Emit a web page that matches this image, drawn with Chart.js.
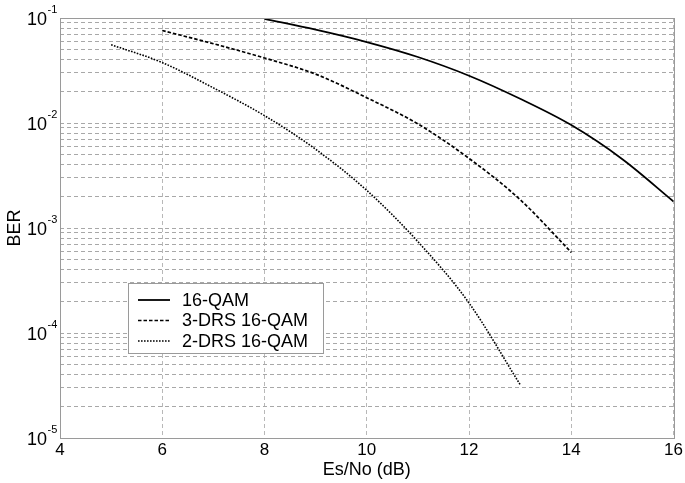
<!DOCTYPE html>
<html>
<head>
<meta charset="utf-8">
<script src="https://cdn.jsdelivr.net/npm/chart.js@4/dist/chart.umd.min.js"></script>
<style>
  body { margin: 0; background: #fff; }
  #wrap { width: 685px; height: 483px; position: relative; }
</style>
</head>
<body>
<div id="wrap"><canvas id="ber"></canvas></div>
<script>
// Es/No (dB) points and BER values
const esNoQam = [8, 9, 10, 11, 12, 13, 14, 15, 16];
const berQam = [0.098, 0.0774, 0.059, 0.0425, 0.0282, 0.017, 0.00955, 0.00452, 0.00179];

const esNoDrs3 = [6, 7, 8, 9, 10, 11, 12, 13, 14];
const berDrs3 = [0.076, 0.0569, 0.0416, 0.0292, 0.0174, 0.0098, 0.0046, 0.00186, 0.000586];

const esNoDrs2 = [5, 6, 7, 8, 9, 10, 11, 12, 13];
const berDrs2 = [0.0557, 0.0376, 0.0216, 0.01175, 0.00562, 0.00228, 0.000741, 0.000193, 0.0000322];

const seriesNames = ["16-QAM", "3-DRS 16-QAM", "2-DRS 16-QAM"];

// tick labels
const xTicks = [4, 6, 8, 10, 12, 14, 16];
const yExponents = [-5, -4, -3, -2, -1];

const FONT = "'Liberation Sans', Arial, Helvetica, sans-serif";

function toPoints(xs, ys) {
    return xs.map((x, i) => ({ x: x, y: ys[i] }));
}

// every 1..9 x 10^k value gets a grid line
const yGridValues = [];
for (let e = -5; e < -1; e++) {
    for (let m = 1; m <= 9; m++) yGridValues.push(m * Math.pow(10, e));
}
yGridValues.push(0.1);

const boxPlugin = {
    id: "box",
    afterDraw(chart) {
        const a = chart.chartArea;
        const ctx = chart.ctx;
        ctx.save();
        ctx.strokeStyle = "#9a9a9a";
        ctx.lineWidth = 1;
        ctx.setLineDash([]);
        ctx.strokeRect(Math.round(a.left) + 0.5, Math.round(a.top) + 0.5,
            Math.round(a.right - a.left), Math.round(a.bottom - a.top));

        // y tick labels as 10 with a raised exponent
        const ys = chart.scales.y;
        ctx.fillStyle = "#000";
        yExponents.forEach(e => {
            const py = ys.getPixelForValue(Math.pow(10, e));
            ctx.font = "18px " + FONT;
            ctx.textAlign = "right";
            ctx.textBaseline = "alphabetic";
            ctx.fillText("10", a.left - 13, py + 6.5);
            ctx.font = "11px " + FONT;
            ctx.textAlign = "left";
            ctx.fillText(String(e), a.left - 12.5, py - 5);
        });

        // legend box
        const lx = a.left + 68, ly = a.top + 265;
        ctx.fillStyle = "#fff";
        ctx.fillRect(lx, ly, 195, 70);
        ctx.strokeStyle = "#9a9a9a";
        ctx.strokeRect(lx + 0.5, ly + 0.5, 195, 70);
        chart.data.datasets.forEach((ds, i) => {
            const cy = ly + 17 + i * 20.5;
            ctx.strokeStyle = "#000";
            ctx.lineWidth = ds.borderWidth;
            ctx.setLineDash(ds.borderDash || []);
            ctx.beginPath();
            ctx.moveTo(lx + 10, cy);
            ctx.lineTo(lx + 42, cy);
            ctx.stroke();
            ctx.setLineDash([]);
            ctx.fillStyle = "#000";
            ctx.font = "18px " + FONT;
            ctx.textAlign = "left";
            ctx.textBaseline = "middle";
            ctx.fillText(ds.label, lx + 54, cy + 1);
        });
        ctx.restore();
    }
};

new Chart("ber", {
    type: "line",
    data: {
        datasets: [{
            label: seriesNames[0],
            data: toPoints(esNoQam, berQam),
            borderColor: "#000",
            borderWidth: 1.8,
            borderDash: [],
            pointRadius: 0,
            cubicInterpolationMode: "monotone"
        }, {
            label: seriesNames[1],
            data: toPoints(esNoDrs3, berDrs3),
            borderColor: "#000",
            borderWidth: 1.7,
            borderDash: [3.5, 2],
            pointRadius: 0,
            cubicInterpolationMode: "monotone"
        }, {
            label: seriesNames[2],
            data: toPoints(esNoDrs2, berDrs2),
            borderColor: "#000",
            borderWidth: 1.6,
            borderDash: [1.6, 1.4],
            pointRadius: 0,
            cubicInterpolationMode: "monotone"
        }]
    },
    options: {
        responsive: true,
        maintainAspectRatio: false,
        animation: false,
        layout: { padding: { left: 0, top: 18, right: 10, bottom: 0 } },
        plugins: {
            legend: { display: false },
            tooltip: { enabled: false }
        },
        scales: {
            x: {
                type: "linear",
                min: 4,
                max: 16,
                afterBuildTicks: s => { s.ticks = xTicks.map(v => ({ value: v })); },
                afterFit: s => { s.height = 45; },
                grid: { color: "#b8b8b8", lineWidth: 1, drawTicks: false },
                border: { display: false, dash: [4, 3] },
                ticks: { color: "#000", padding: 2, font: { family: FONT, size: 17 } },
                title: {
                    display: true,
                    text: "Es/No (dB)",
                    color: "#000",
                    padding: { top: 0, bottom: 2 },
                    font: { family: FONT, size: 18 }
                }
            },
            y: {
                type: "logarithmic",
                min: 1e-5,
                max: 1e-1,
                afterBuildTicks: s => { s.ticks = yGridValues.map(v => ({ value: v })); },
                afterFit: s => { s.width = 60; },
                grid: { color: "#a8a8a8", lineWidth: 1, drawTicks: false },
                border: { display: false, dash: [4, 3] },
                ticks: { display: false },
                title: {
                    display: true,
                    text: "BER",
                    color: "#000",
                    padding: 4,
                    font: { family: FONT, size: 18 }
                }
            }
        }
    },
    plugins: [boxPlugin]
});
</script>
</body>
</html>
